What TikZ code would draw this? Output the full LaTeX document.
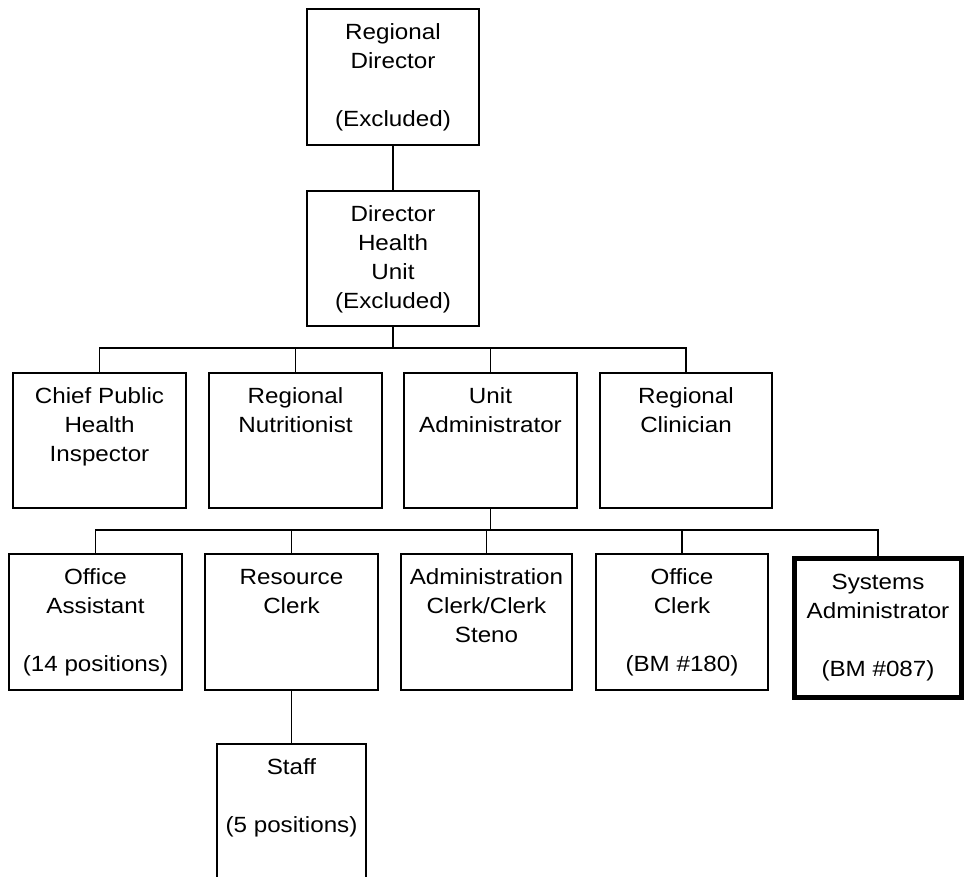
\documentclass[tikz,border=0pt]{standalone}
\usepackage{fontspec}
\setmainfont[FakeStretch=1.1]{Liberation Sans}
\newcommand{\posttext}[3]{\parbox[t][#2pt][t]{#1pt}{\centering\rule{0pt}{31pt}#3}}

\begin{document}
\begin{tikzpicture}
    [
    x=1pt, y=-1pt,
    post/.style={draw,rectangle,line width=1.6pt,inner sep=0pt,anchor=north,font=\fontsize{22}{29}\selectfont},
    heavy/.style={line width=5pt},
    link/.style={line width=1.6pt}
    ]
    \useasboundingbox (0,0) rectangle (964,877);
    \clip (0,0) rectangle (964,877);
    \node (rd) at (393,8) [post] {\posttext{172}{136}{Regional\\Director\\[29pt](Excluded)}};
    \node (dhu) at (393,190) [post] {\posttext{172}{135}{Director\\Health\\Unit\\(Excluded)}};
    \node (cphi) at (99.5,372) [post] {\posttext{173}{135}{Chief Public\\Health\\Inspector}};
    \node (nutr) at (295.5,372) [post] {\posttext{173}{135}{Regional\\Nutritionist}};
    \node (uadm) at (490.5,372) [post] {\posttext{173}{135}{Unit\\Administrator}};
    \node (clin) at (686,372) [post] {\posttext{172}{135}{Regional\\Clinician}};
    \node (oasst) at (95.5,553) [post] {\posttext{173}{136}{Office\\Assistant\\[29pt](14 positions)}};
    \node (rclerk) at (291.5,553) [post] {\posttext{173}{136}{Resource\\Clerk}};
    \node (aclerk) at (486.5,553) [post] {\posttext{171}{136}{Administration\\Clerk/Clerk\\Steno}};
    \node (oclerk) at (682,553) [post] {\posttext{172}{136}{Office\\Clerk\\[29pt](BM \#180)}};
    \node (sysad) at (878,555.5) [post, heavy] {\posttext{167}{139}{Systems\\Administrator\\[29pt](BM \#087)}};
    \node (staff) at (291.5,743) [post] {\posttext{149}{160}{Staff\\[29pt](5 positions)}};
    \coordinate (bus1) at (393,348);
    \coordinate (bus2) at (490.5,530);
    \draw [link] (rd.south) to (dhu.north);
    \draw [link] (dhu.south) to (bus1);
    \draw [link] (cphi.north) -- (cphi.north |- bus1) -- (clin.north |- bus1) -- (clin.north);
    \draw [link] (nutr.north) to (nutr.north |- bus1);
    \draw [link] (uadm.north) to (uadm.north |- bus1);
    \draw [link] (uadm.south) to (bus2);
    \draw [link] (oasst.north) -- (oasst.north |- bus2) -- (sysad.north |- bus2) -- (sysad.north);
    \draw [link] (rclerk.north) to (rclerk.north |- bus2);
    \draw [link] (aclerk.north) to (aclerk.north |- bus2);
    \draw [link] (oclerk.north) to (oclerk.north |- bus2);
    \draw [link] (rclerk.south) to (staff.north);
  \end{tikzpicture}
\end{document}
